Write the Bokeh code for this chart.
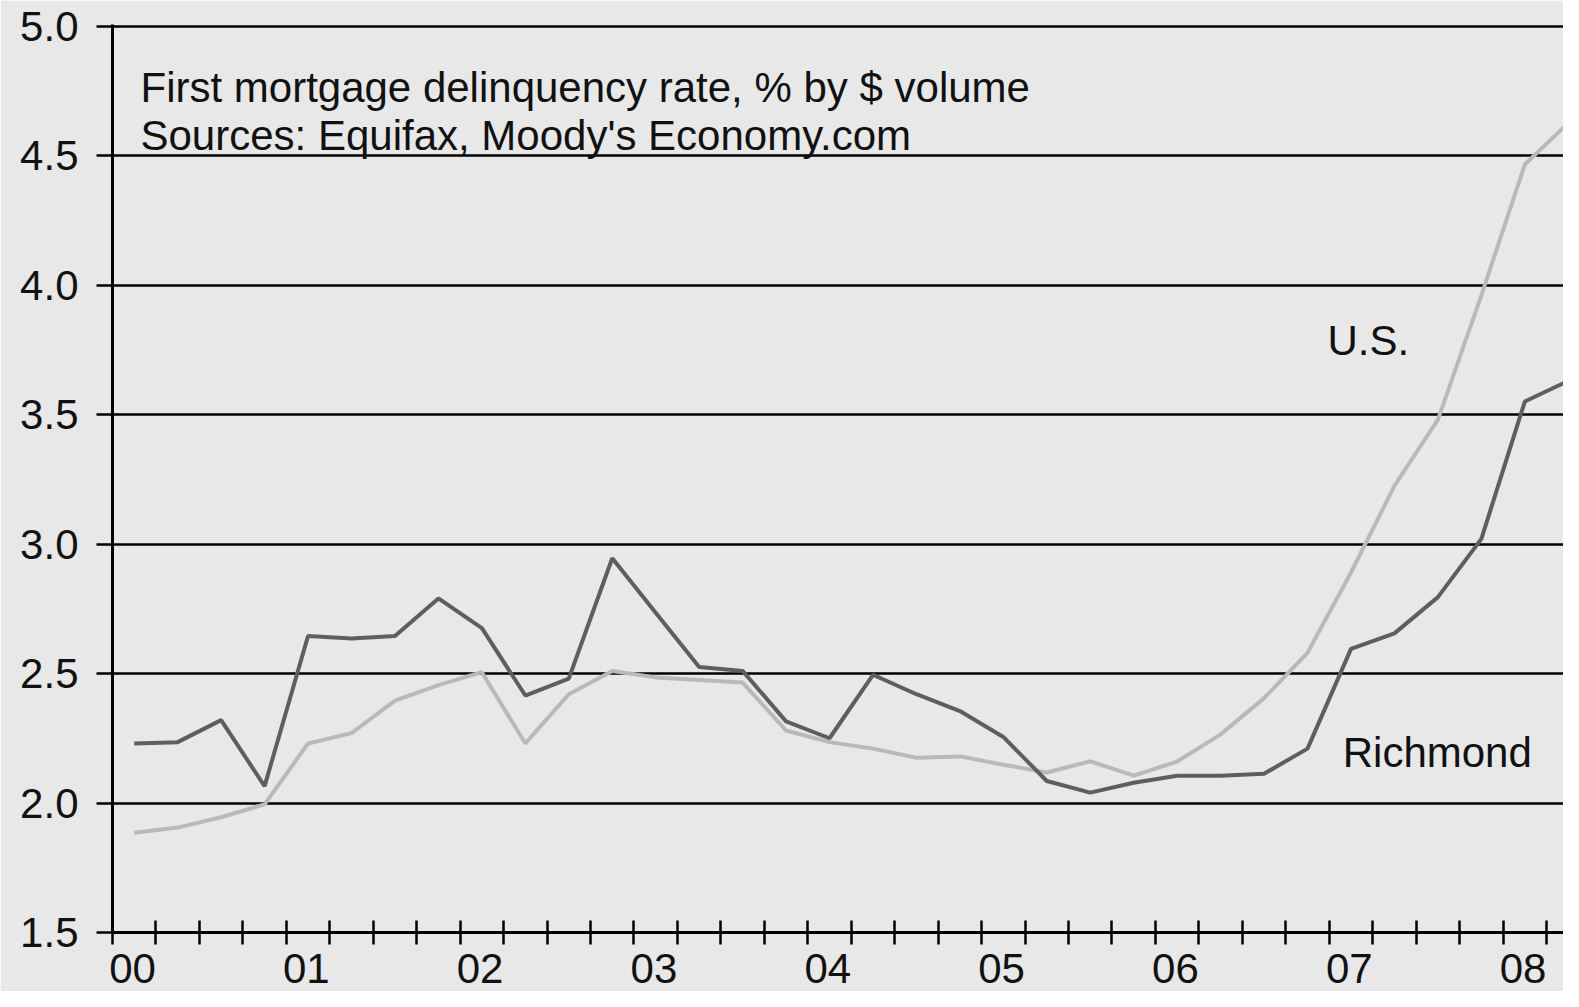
from bokeh.plotting import figure
from bokeh.models import Range1d, FixedTicker, PrintfTickFormatter, Label, ColumnDataSource
from bokeh.embed import file_html
from bokeh.resources import INLINE

# ---- data (quarterly, 2000Q1 .. 2008Q2) ----
quarters = list(range(34))
richmond = [2.23, 2.235, 2.32, 2.065, 2.645, 2.635, 2.645, 2.79, 2.675, 2.415,
            2.48, 2.945, 2.735, 2.525, 2.51, 2.315, 2.25, 2.495, 2.42, 2.355,
            2.255, 2.085, 2.04, 2.078, 2.105, 2.105, 2.113, 2.21, 2.595, 2.655,
            2.795, 3.02, 3.55, 3.63]
us = [1.885, 1.905, 1.945, 1.995, 2.23, 2.27, 2.395, 2.455, 2.505, 2.23,
      2.42, 2.51, 2.485, 2.475, 2.465, 2.28, 2.235, 2.21, 2.175, 2.18,
      2.148, 2.118, 2.161, 2.106, 2.16, 2.265, 2.405, 2.58, 2.89, 3.225,
      3.48, 3.96, 4.465, 4.626]
year_labels = ["00", "01", "02", "03", "04", "05", "06", "07", "08"]
y_ticks = [1.5, 2.0, 2.5, 3.0, 3.5, 4.0, 4.5, 5.0]
title_lines = ["First mortgage delinquency rate, % by $ volume",
               "Sources: Equifax, Moody's Economy.com"]

FONT = "Liberation Sans"
BG = "#e8e8e8"
TXT = "#111111"

p = figure(width=1563, height=991, output_backend="svg", toolbar_location=None,
           x_range=Range1d(0, 33.39), y_range=Range1d(1.5, 5.0058),
           min_border_left=112, min_border_right=0, min_border_top=24,
           min_border_bottom=59)
p.background_fill_color = BG
p.border_fill_color = BG
p.outline_line_color = None

# y axis
p.yaxis.ticker = FixedTicker(ticks=y_ticks)
p.yaxis.formatter = PrintfTickFormatter(format="%.1f")
p.yaxis.major_tick_in = 0
p.yaxis.major_tick_out = 16
p.yaxis.minor_tick_line_color = None
p.yaxis.major_tick_line_width = 2.5
p.yaxis.axis_line_width = 3
p.yaxis.axis_line_color = "black"
p.yaxis.major_tick_line_color = "black"
p.yaxis.major_label_text_font = FONT
p.yaxis.major_label_text_font_size = "42px"
p.yaxis.major_label_text_color = TXT
p.yaxis.major_label_standoff = 18

p.ygrid.ticker = FixedTicker(ticks=y_ticks)
p.ygrid.grid_line_color = "black"
p.ygrid.grid_line_width = 2.5
p.xgrid.visible = False

# x axis: quarterly tick marks crossing the axis, year labels in the first quarter
year_pos = [4 * i + 0.46 for i in range(len(year_labels))]
p.xaxis.ticker = FixedTicker(ticks=year_pos, minor_ticks=quarters)
p.xaxis.major_label_overrides = {pos: lab for pos, lab in zip(year_pos, year_labels)}
p.xaxis.major_tick_in = 0
p.xaxis.major_tick_out = 0
p.xaxis.major_tick_line_color = None
p.xaxis.minor_tick_in = 12
p.xaxis.minor_tick_out = 12
p.xaxis.minor_tick_line_width = 2.5
p.xaxis.minor_tick_line_color = "black"
p.xaxis.axis_line_width = 3
p.xaxis.axis_line_color = "black"
p.xaxis.major_label_text_font = FONT
p.xaxis.major_label_text_font_size = "42px"
p.xaxis.major_label_text_color = TXT
p.xaxis.major_label_standoff = 9

# series (points at mid-quarter)
src = ColumnDataSource(dict(x=[q + 0.5 for q in quarters], richmond=richmond, us=us))
p.line("x", "us", source=src, line_color="#b9b9b9", line_width=4)
p.line("x", "richmond", source=src, line_color="#5e5e5e", line_width=4)

# annotation texts
p.add_layout(Label(x=0.644, y=4.7625, text=title_lines[0], text_font=FONT,
                   text_font_size="42px", text_color=TXT, text_baseline="alphabetic"))
p.add_layout(Label(x=0.644, y=4.577, text=title_lines[1], text_font=FONT,
                   text_font_size="42px", text_color=TXT, text_baseline="alphabetic"))
p.add_layout(Label(x=27.96, y=3.786, text="U.S.", text_font=FONT,
                   text_font_size="42px", text_color=TXT, text_baseline="alphabetic"))
p.add_layout(Label(x=28.31, y=2.195, text="Richmond", text_font=FONT,
                   text_font_size="42px", text_color=TXT, text_baseline="alphabetic"))

open("out.html", "w").write(file_html(p, INLINE))
